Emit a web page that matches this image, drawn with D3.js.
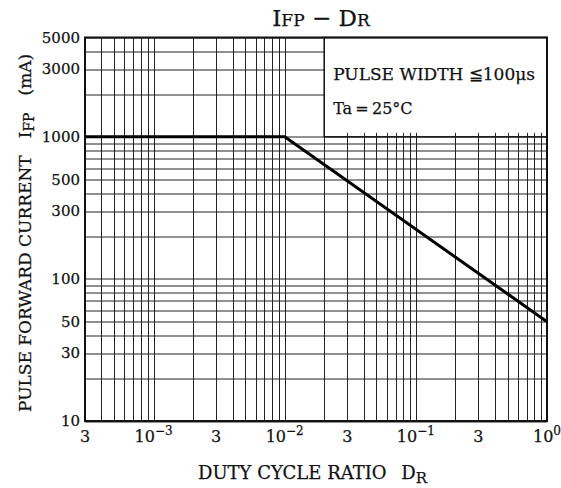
<!DOCTYPE html>
<html>
<head>
<meta charset="utf-8">
<script src="https://cdn.jsdelivr.net/npm/d3@7"></script>
<style>
  body { margin: 0; background: #fff; }
  text { font-family: "DejaVu Serif", serif; fill: #111; stroke: #111; stroke-width: 0.25px; }
</style>
</head>
<body>
<script>
// Data
var dutyRatio = [3e-4, 1e-2, 1];
var pulseCurrent = [1000, 1000, 50];

// tick labels
var yTickValues = [10, 30, 50, 100, 300, 500, 1000, 3000, 5000];
var xTickValues = [3e-4, 1e-3, 3e-3, 1e-2, 3e-2, 1e-1, 3e-1, 1];
var xTickMain = ["3", "10", "3", "10", "3", "10", "3", "10"];
var xTickExp = ["", "\u22123", "", "\u22122", "", "\u22121", "", "0"];

var legendLines = ["PULSE WIDTH \u2266100\u03bcs", "Ta\u2009=\u200925\u00b0C"];

// svg area
var svgWidth = 561;
var svgHeight = 488;

var margin = {top: 37.5, right: 14, bottom: 67, left: 85};
var chartWidth = svgWidth - margin.left - margin.right;
var chartHeight = svgHeight - margin.top - margin.bottom;

var svg = d3.select("body")
  .append("svg")
  .attr("width", svgWidth)
  .attr("height", svgHeight);

var chartGroup = svg.append("g")
  .attr("transform", `translate(${margin.left}, ${margin.top})`);

var xLogScale = d3.scaleLog()
  .domain([3e-4, 1])
  .range([0, chartWidth]);

var yLogScale = d3.scaleLog()
  .domain([10, 5000])
  .range([chartHeight, 0]);

// grid lines
chartGroup.append("g")
  .selectAll("line")
  .data(xLogScale.ticks())
  .enter()
  .append("line")
  .attr("x1", d => Math.round(xLogScale(d)) + 0.5)
  .attr("x2", d => Math.round(xLogScale(d)) + 0.5)
  .attr("y1", 0)
  .attr("y2", chartHeight)
  .attr("stroke", "#222")
  .attr("stroke-width", 1);

chartGroup.append("g")
  .selectAll("line")
  .data(yLogScale.ticks())
  .enter()
  .append("line")
  .attr("x1", 0)
  .attr("x2", chartWidth)
  .attr("y1", d => Math.round(yLogScale(d)) + 0.5)
  .attr("y2", d => Math.round(yLogScale(d)) + 0.5)
  .attr("stroke", "#222")
  .attr("stroke-width", 1);

// legend box (covers the top right part of the grid)
var boxLeft = xLogScale(0.02);
var boxBottom = yLogScale(1000);
chartGroup.append("rect")
  .attr("x", boxLeft)
  .attr("y", 0)
  .attr("width", chartWidth - boxLeft)
  .attr("height", boxBottom)
  .attr("fill", "#fff")
  .attr("stroke", "#111")
  .attr("stroke-width", 1.5);

// little stubs on bottom edge of the box
chartGroup.append("g")
  .selectAll("line")
  .data(xLogScale.ticks().filter(d => d > 0.02 && d < 1))
  .enter()
  .append("line")
  .attr("x1", d => Math.round(xLogScale(d)) + 0.5)
  .attr("x2", d => Math.round(xLogScale(d)) + 0.5)
  .attr("y1", boxBottom)
  .attr("y2", boxBottom - 4)
  .attr("stroke", "#222");

chartGroup.selectAll(".legend")
  .data(legendLines)
  .enter()
  .append("text")
  .attr("class", "legend")
  .attr("x", boxLeft + 9)
  .attr("y", (d, i) => 42.5 + i * 34)
  .attr("font-size", (d, i) => i == 0 ? "17px" : "16px")
  .text(d => d);

// frame
chartGroup.append("rect")
  .attr("x", 0)
  .attr("y", 0)
  .attr("width", chartWidth)
  .attr("height", chartHeight)
  .attr("fill", "none")
  .attr("stroke", "#111")
  .attr("stroke-width", 2);

// data line
var line = d3.line()
  .x(d => xLogScale(d[0]))
  .y(d => yLogScale(d[1]));

chartGroup.append("path")
  .datum(d3.zip(dutyRatio, pulseCurrent))
  .attr("d", line)
  .attr("fill", "none")
  .attr("stroke", "#000")
  .attr("stroke-width", 3);

// y tick labels
chartGroup.selectAll(".ytick")
  .data(yTickValues)
  .enter()
  .append("text")
  .attr("class", "ytick")
  .attr("x", -5)
  .attr("y", d => yLogScale(d) + 5)
  .attr("text-anchor", "end")
  .attr("font-size", "15px")
  .text(d => d);

// x tick labels
var xLabels = chartGroup.selectAll(".xtick")
  .data(xTickValues)
  .enter()
  .append("text")
  .attr("class", "xtick")
  .attr("x", d => xLogScale(d))
  .attr("y", chartHeight + 21)
  .attr("text-anchor", "middle")
  .attr("font-size", "16px");

xLabels.append("tspan")
  .text((d, i) => xTickMain[i]);

xLabels.append("tspan")
  .attr("dy", -7)
  .attr("font-size", "12px")
  .text((d, i) => xTickExp[i]);

// title
var title = svg.append("text")
  .attr("x", margin.left + chartWidth / 2 + 5)
  .attr("y", 26)
  .attr("text-anchor", "middle")
  .attr("font-size", "23px");
title.append("tspan").text("I");
title.append("tspan").attr("font-size", "17px").text("FP");
title.append("tspan").text(" \u2212 D");
title.append("tspan").attr("font-size", "17px").text("R");

// x axis label
var xTitle = svg.append("text")
  .attr("x", 198)
  .attr("y", 479)
  .attr("font-size", "18px");
xTitle.append("tspan").text("DUTY CYCLE RATIO\u2002 D");
xTitle.append("tspan").attr("dy", 4).attr("font-size", "15px").text("R");

// y axis label
var yTitle = svg.append("text")
  .attr("transform", "translate(31, 412) rotate(-90)")
  .attr("font-size", "17px");
yTitle.append("tspan").text("PULSE FORWARD CURRENT\u2003I");
yTitle.append("tspan").attr("dy", 3).attr("font-size", "14px").text("FP");
yTitle.append("tspan").attr("dy", -3).text("\u2003(mA)");
</script>
</body>
</html>
